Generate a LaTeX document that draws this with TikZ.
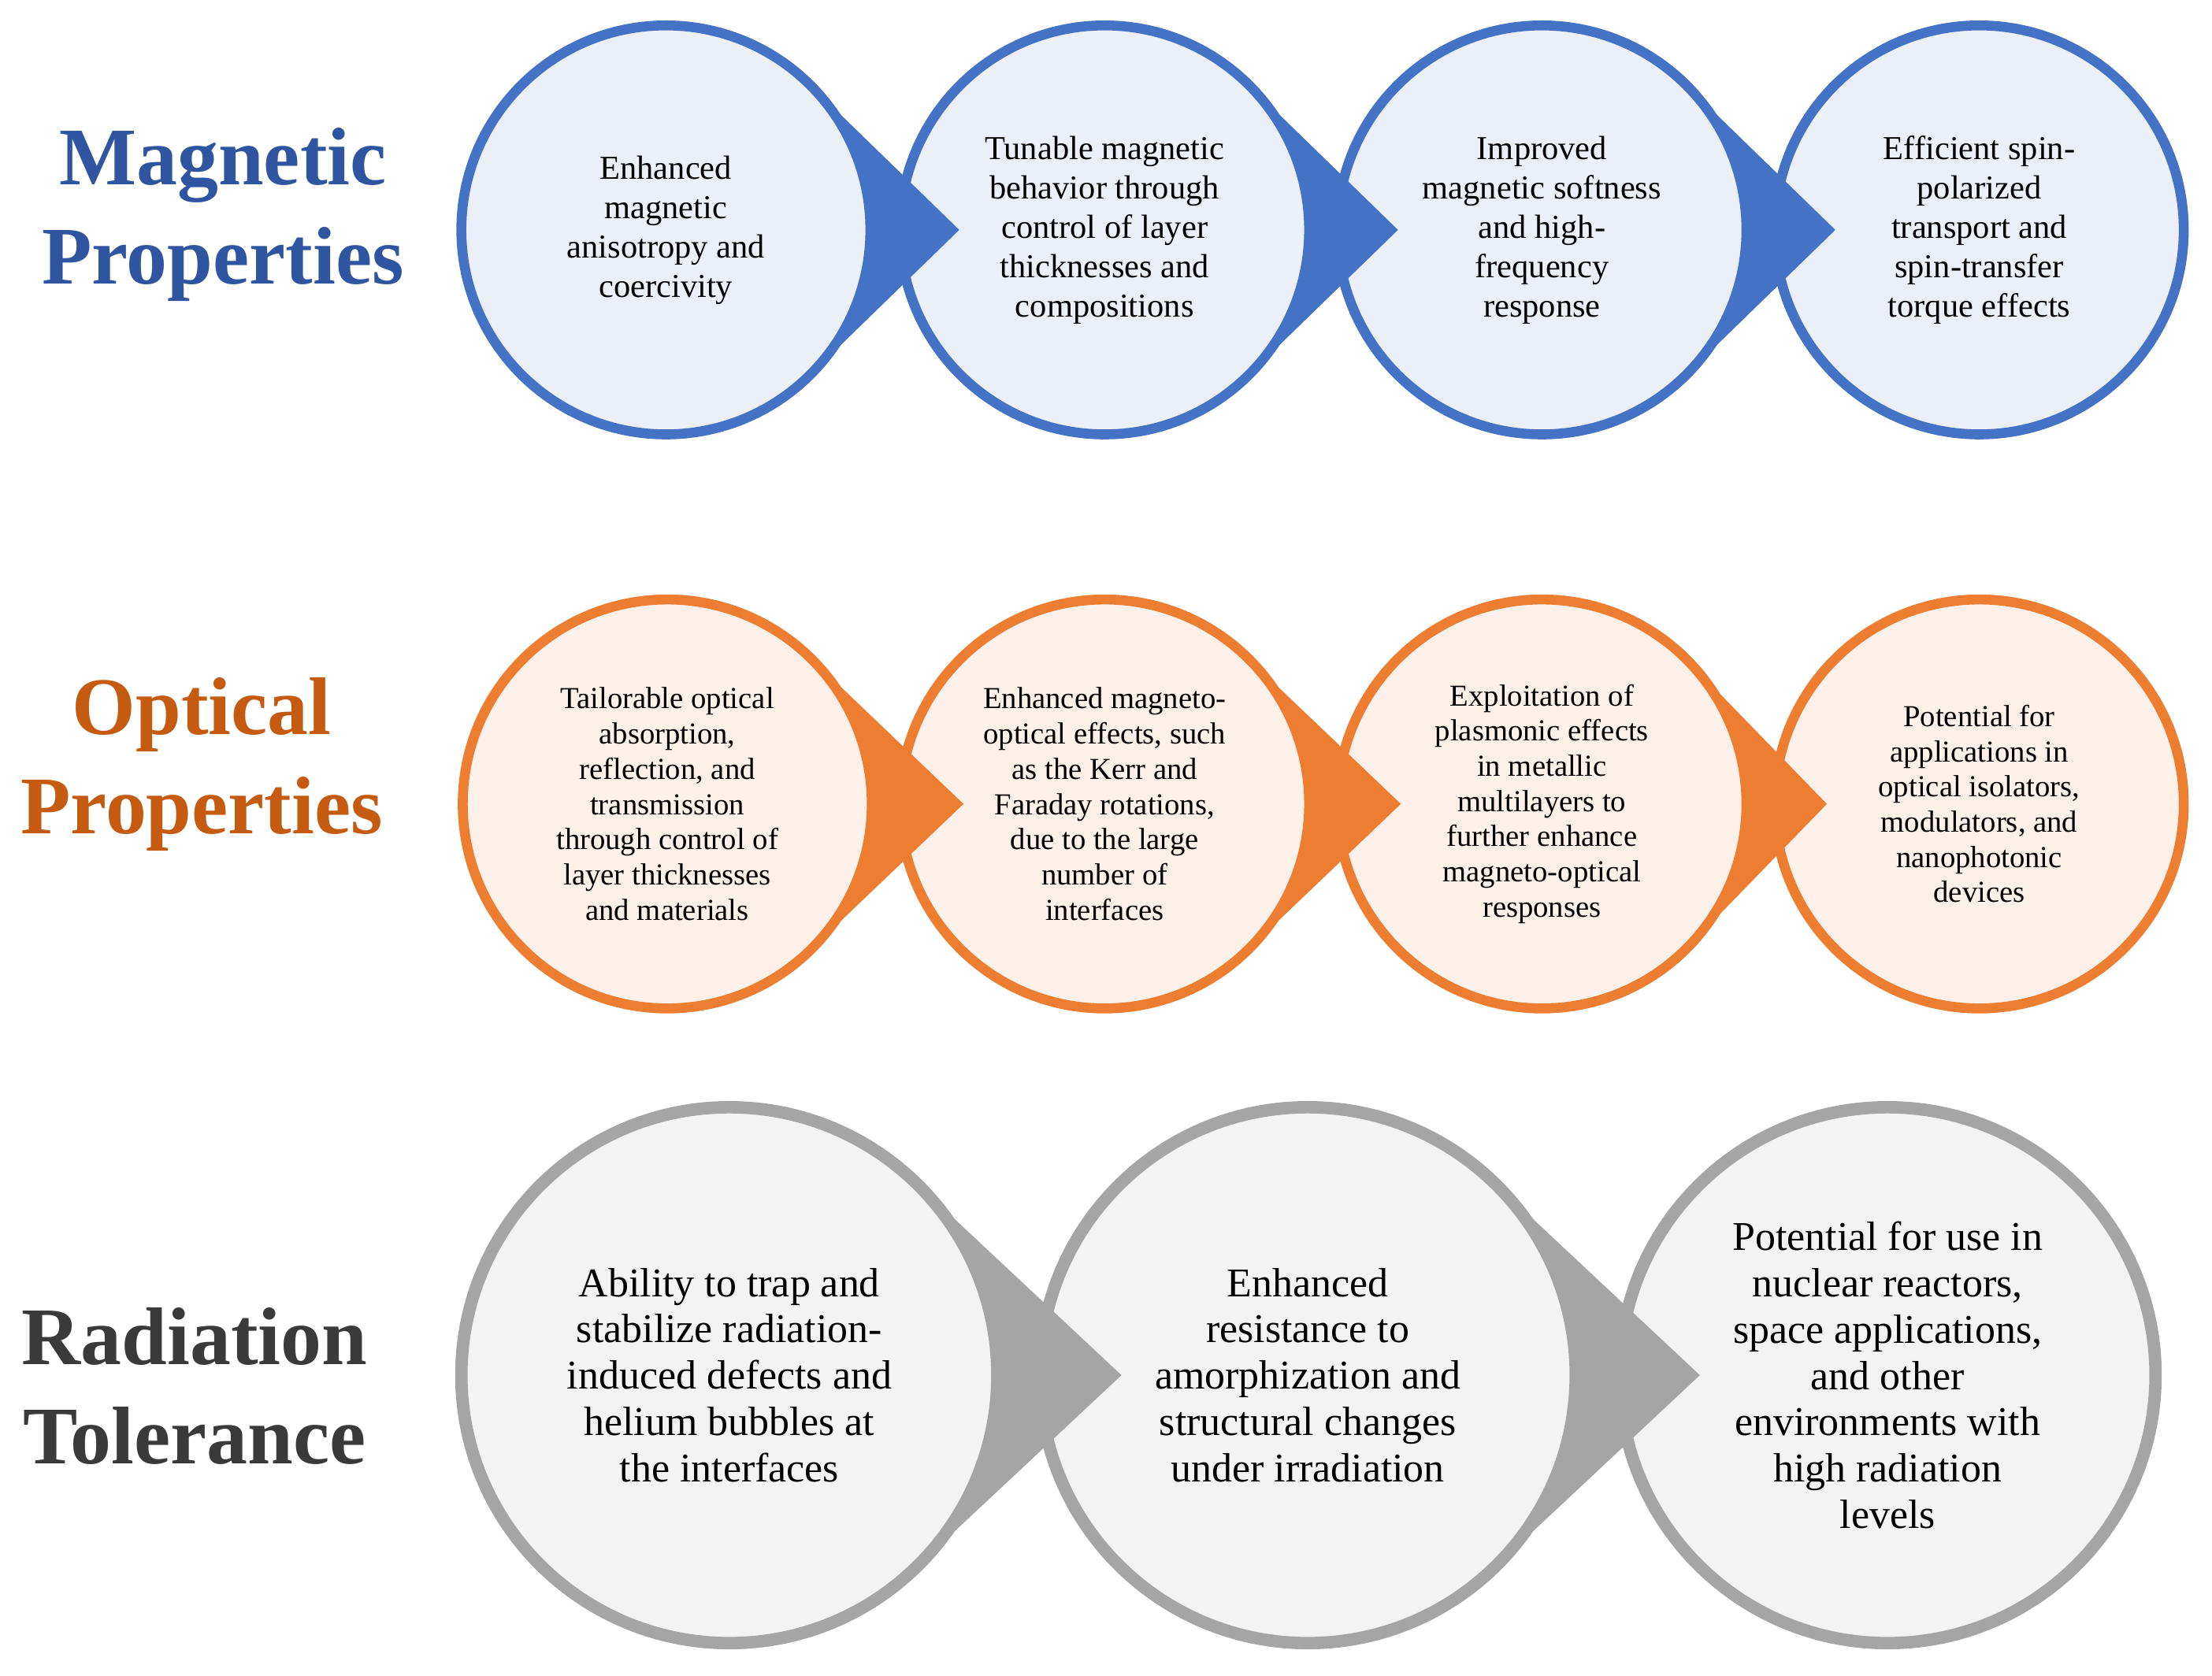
\documentclass[tikz,border=0pt]{standalone}
\usepackage{fontspec}
\setmainfont{Liberation Serif}
\usetikzlibrary{calc}
\definecolor{mb}{HTML}{4472C4}\definecolor{mbf}{HTML}{EAEFF8}\definecolor{mt}{HTML}{2F55A0}
\definecolor{ob}{HTML}{ED7D31}\definecolor{obf}{HTML}{FDF0E8}\definecolor{ot}{HTML}{C55A11}
\definecolor{gb}{HTML}{A5A5A5}\definecolor{gbf}{HTML}{F3F3F3}\definecolor{gt}{HTML}{3A3A3A}
\newcommand\ptr[5]{\fill[#5] ($(#1.center)+(#4:#2)$) -- ($(#1.center)+(#3,0)$) -- ($(#1.center)+(-#4:#2)$) arc[start angle=-#4,end angle=#4,radius=#2];}
\tikzset{
 mag/.style={circle,draw=mb,fill=mbf,line width=4pt,minimum size=5.8cm,align=center,font=\fontsize{13.5}{15.9}\selectfont},
 opt/.style={circle,draw=ob,fill=obf,line width=4pt,minimum size=5.8cm,align=center,font=\fontsize{12.3}{14.2}\selectfont},
 rad/.style={circle,draw=gb,fill=gbf,line width=5pt,minimum size=7.6cm,align=center,font=\fontsize{16.5}{18.7}\selectfont},
 ttl/.style={font=\fontsize{33}{40}\selectfont\bfseries,align=center}
}
\begin{document}
\begin{tikzpicture}[x=0.02cm,y=0.02cm]
\useasboundingbox (0,0) rectangle (1568,1188);
% titles
\node[ttl,text=mt] (t1) at (158,1036) {Magnetic\\Properties};
\node[ttl,text=ot] (t2) at (143,646) {Optical\\Properties};
\node[ttl,text=gt] (t3) at (138,205) {Radiation\\Tolerance};
% magnetic
\node[mag] (m1) at (472,1025) {Enhanced\\magnetic\\anisotropy and\\coercivity};
\node[mag] (m2) at (783,1025) {Tunable magnetic\\behavior through\\control of layer\\thicknesses and\\compositions};
\node[mag] (m3) at (1093,1025) {Improved\\magnetic softness\\and high-\\frequency\\response};
\node[mag] (m4) at (1403,1025) {Efficient spin-\\polarized\\transport and\\spin-transfer\\torque effects};
\ptr{m1}{2.9cm}{4.16cm}{45.8}{mb}
\ptr{m2}{2.9cm}{4.16cm}{45.8}{mb}
\ptr{m3}{2.9cm}{4.16cm}{45.8}{mb}
% optical
\node[opt] (o1) at (473,618) {Tailorable optical\\absorption,\\reflection, and\\transmission\\through control of\\layer thicknesses\\and materials};
\node[opt] (o2) at (783,618) {Enhanced magneto-\\optical effects, such\\as the Kerr and\\Faraday rotations,\\due to the large\\number of\\interfaces};
\node[opt] (o3) at (1093,618) {Exploitation of\\plasmonic effects\\in metallic\\multilayers to\\further enhance\\magneto-optical\\responses};
\node[opt] (o4) at (1403,618) {Potential for\\applications in\\optical isolators,\\modulators, and\\nanophotonic\\devices};
\ptr{o1}{2.9cm}{4.2cm}{46.3}{ob}
\ptr{o2}{2.9cm}{4.2cm}{46.3}{ob}
\ptr{o3}{2.9cm}{4.04cm}{44.2}{ob}
% radiation
\node[rad] (r1) at (517,213) {Ability to trap and\\stabilize radiation-\\induced defects and\\helium bubbles at\\the interfaces};
\node[rad] (r2) at (927,213) {Enhanced\\resistance to\\amorphization and\\structural changes\\under irradiation};
\node[rad] (r3) at (1338,213) {Potential for use in\\nuclear reactors,\\space applications,\\and other\\environments with\\high radiation\\levels};
\ptr{r1}{3.8cm}{5.56cm}{46.9}{gb}
\ptr{r2}{3.8cm}{5.56cm}{46.9}{gb}
\end{tikzpicture}
\end{document}
